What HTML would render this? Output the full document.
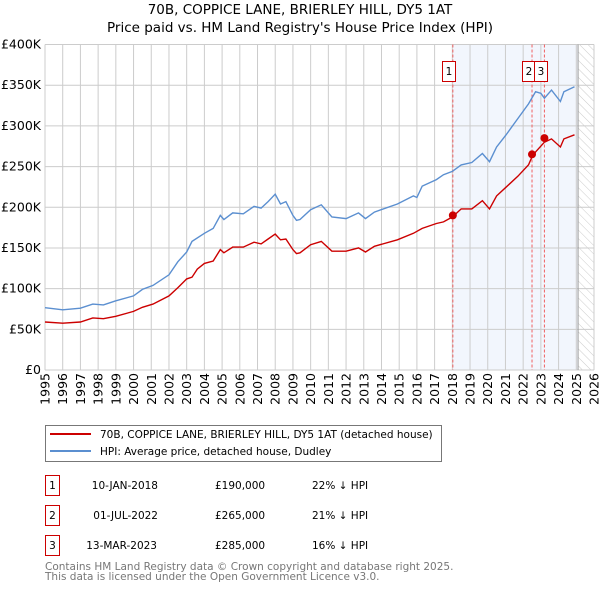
<!DOCTYPE html>
<html><head><meta charset="utf-8"><style>
body{margin:0;background:#fff;font-family:"DejaVu Sans","Liberation Sans",sans-serif;}
svg text{font-family:"DejaVu Sans","Liberation Sans",sans-serif;}
</style></head><body>
<svg id="chart" width="600" height="590" viewBox="0 0 600 590" xmlns="http://www.w3.org/2000/svg">
<defs><pattern id="hatch" patternUnits="userSpaceOnUse" width="6" height="6" patternTransform="rotate(-45)"><line x1="0" y1="0" x2="0" y2="6" stroke="#ccc" stroke-width="1"/></pattern></defs>
<text x="300" y="14" text-anchor="middle" font-size="13.5">70B, COPPICE LANE, BRIERLEY HILL, DY5 1AT</text>
<text x="300" y="32" text-anchor="middle" font-size="13.5">Price paid vs. HM Land Registry's House Price Index (HPI)</text>
<g id="grid"></g>
<g id="marks"></g>
<rect x="45.5" y="425.5" width="396" height="36" fill="#fff" stroke="#777"/>
<line x1="50" y1="434" x2="91" y2="434" stroke="#cc0000" stroke-width="2"/>
<text x="100" y="438" font-size="10.5">70B, COPPICE LANE, BRIERLEY HILL, DY5 1AT (detached house)</text>
<line x1="50" y1="451" x2="91" y2="451" stroke="#5b8fd0" stroke-width="2"/>
<text x="100" y="455" font-size="10.5">HPI: Average price, detached house, Dudley</text>
<g font-size="10.5">
<rect x="45.5" y="475.5" width="14" height="20" fill="#fff" stroke="#cc0000"/><text x="52.5" y="489" text-anchor="middle">1</text>
<text x="158" y="489" text-anchor="end">10-JAN-2018</text>
<text x="215" y="489">£190,000</text>
<text x="312" y="489">22% ↓ HPI</text>
<rect x="45.5" y="505.5" width="14" height="20" fill="#fff" stroke="#cc0000"/><text x="52.5" y="519" text-anchor="middle">2</text>
<text x="158" y="519" text-anchor="end">01-JUL-2022</text>
<text x="215" y="519">£265,000</text>
<text x="312" y="519">21% ↓ HPI</text>
<rect x="45.5" y="535.5" width="14" height="20" fill="#fff" stroke="#cc0000"/><text x="52.5" y="549" text-anchor="middle">3</text>
<text x="157" y="549" text-anchor="end">13-MAR-2023</text>
<text x="215" y="549">£285,000</text>
<text x="312" y="549">16% ↓ HPI</text>
</g>
<text x="45" y="570" font-size="10.5" fill="#777">Contains HM Land Registry data © Crown copyright and database right 2025.</text>
<text x="45" y="580" font-size="10.5" fill="#777">This data is licensed under the Open Government Licence v3.0.</text>
</svg>
<script>
const yTicks=[0,50,100,150,200,250,300,350,400];
const yTickLabels=["£0","£50K","£100K","£150K","£200K","£250K","£300K","£350K","£400K"];
const xYears=[1995,1996,1997,1998,1999,2000,2001,2002,2003,2004,2005,2006,2007,2008,2009,2010,2011,2012,2013,2014,2015,2016,2017,2018,2019,2020,2021,2022,2023,2024,2025,2026];
const hpiT=[1995,1996,1997,1997.7,1998.3,1999,2000,2000.5,2001.1,2002,2002.5,2003,2003.3,2004,2004.5,2004.9,2005.1,2005.6,2006.2,2006.8,2007.2,2007.6,2008,2008.3,2008.6,2009,2009.2,2009.4,2010,2010.6,2011.2,2012,2012.7,2013.1,2013.6,2014.9,2015.8,2016,2016.3,2017.1,2017.5,2018,2018.5,2019.1,2019.7,2020.1,2020.5,2021,2021.7,2022.3,2022.7,2023,2023.2,2023.6,2024.1,2024.3,2024.9];
const hpiV=[76.5,74,76,81,80,85,91,99,104,117,133,145,158,168,174,190,185,193,192,201,199,207,216,204,207,190,184,185,197,203,188,186,193,186,194,204,214,212,226,234,240,244,252,255,266,256,274,288,309,327,342,340,334,344,330,342,348];
const propT=[1995,1996,1997,1997.7,1998.3,1999,2000,2000.5,2001.1,2002,2002.5,2003,2003.3,2003.6,2004,2004.5,2004.9,2005.1,2005.6,2006.2,2006.8,2007.2,2007.6,2008,2008.3,2008.6,2009,2009.2,2009.4,2010,2010.6,2011.2,2012,2012.7,2013.1,2013.6,2014.9,2015.8,2016.3,2017.1,2017.5,2018,2018.5,2019.1,2019.7,2020.1,2020.5,2021,2021.7,2022.3,2022.5,2022.7,2023.2,2023.6,2024.1,2024.3,2024.9];
const propV=[59,57.5,59,64,63,66,72,77,81,91,101,112,114,124,131,134,148,144,151,151,157,155,161,167,160,161,148,143,144,154,158,146,146,150,145,152,160,168,174,180,182,188,198,198,208,198,214,224,238,252,262,268,280,284,274,284,289];
const saleT=[2018.03,2022.5,2023.2];
const saleV=[190,265,285];
const saleLabels=["1","2","3"];
const L=45,R=594,T=44.5,B=370;
const X=t=>L+(t-1995)/(2026-1995)*(R-L);
const Y=v=>B-v/400*(B-T);
const NS="http://www.w3.org/2000/svg";
function mk(tag,attrs,parent){const e=document.createElementNS(NS,tag);for(const k in attrs)e.setAttribute(k,attrs[k]);parent.appendChild(e);return e;}
const grid=document.getElementById('grid'),marks=document.getElementById('marks');
let e;
e=mk('rect',{x:X(saleT[0]),y:T,width:X(2025.1)-X(saleT[0]),height:B-T,fill:'#f2f6fd'},grid);


e=mk('rect',{x:X(2025.1),y:T,width:R-X(2025.1),height:B-T,fill:'url(#hatch)'},grid);


yTicks.forEach((v,i)=>{
 e=mk('line',{x1:L,x2:R,y1:Y(v),y2:Y(v),stroke:'#ccc'},grid);
 
 
 e=mk('text',{x:L-4,y:Y(v)+4,'text-anchor':'end','font-size':'12.5'},grid);
 e.textContent=yTickLabels[i];
 
 
});
xYears.forEach(y=>{
 e=mk('line',{x1:X(y),x2:X(y),y1:T,y2:B,stroke:'#ccc'},grid);
 
 
 e=mk('text',{x:0,y:0,'text-anchor':'end','font-size':'12.5',transform:`translate(${X(y)+4.5},${B+3}) rotate(-90)`},grid);
 e.textContent=y;
 
 
});
e=mk('line',{x1:X(2025.1),x2:X(2025.1),y1:T,y2:B,stroke:'#999'},grid);


saleT.forEach((t,i)=>{
 e=mk('line',{x1:X(t),x2:X(t),y1:T,y2:B,stroke:'#f06060','stroke-dasharray':'3,2'},marks);
 
 
});
function line(ts,vs,color,name){
 e=mk('polyline',{points:ts.map((t,i)=>X(t).toFixed(1)+','+Y(vs[i]).toFixed(1)).join(' '),fill:'none',stroke:color,'stroke-width':1.4},marks);
 
 
}
line(hpiT,hpiV,'#5b8fd0','hpi-line');
line(propT,propV,'#cc0000','property-line');
const boxX=[449,529,541];
saleT.forEach((t,i)=>{
 e=mk('circle',{cx:X(t),cy:Y(saleV[i]),r:4,fill:'#cc0000'},marks);
 
 
 e=mk('rect',{x:boxX[i]-6.5,y:61.5,width:13,height:20,fill:'#fff',stroke:'#cc0000'},marks);
 
 
 e=mk('text',{x:boxX[i],y:75,'text-anchor':'middle','font-size':'10.5'},marks);
 e.textContent=saleLabels[i];
 
 
});
</script>
</body></html>
